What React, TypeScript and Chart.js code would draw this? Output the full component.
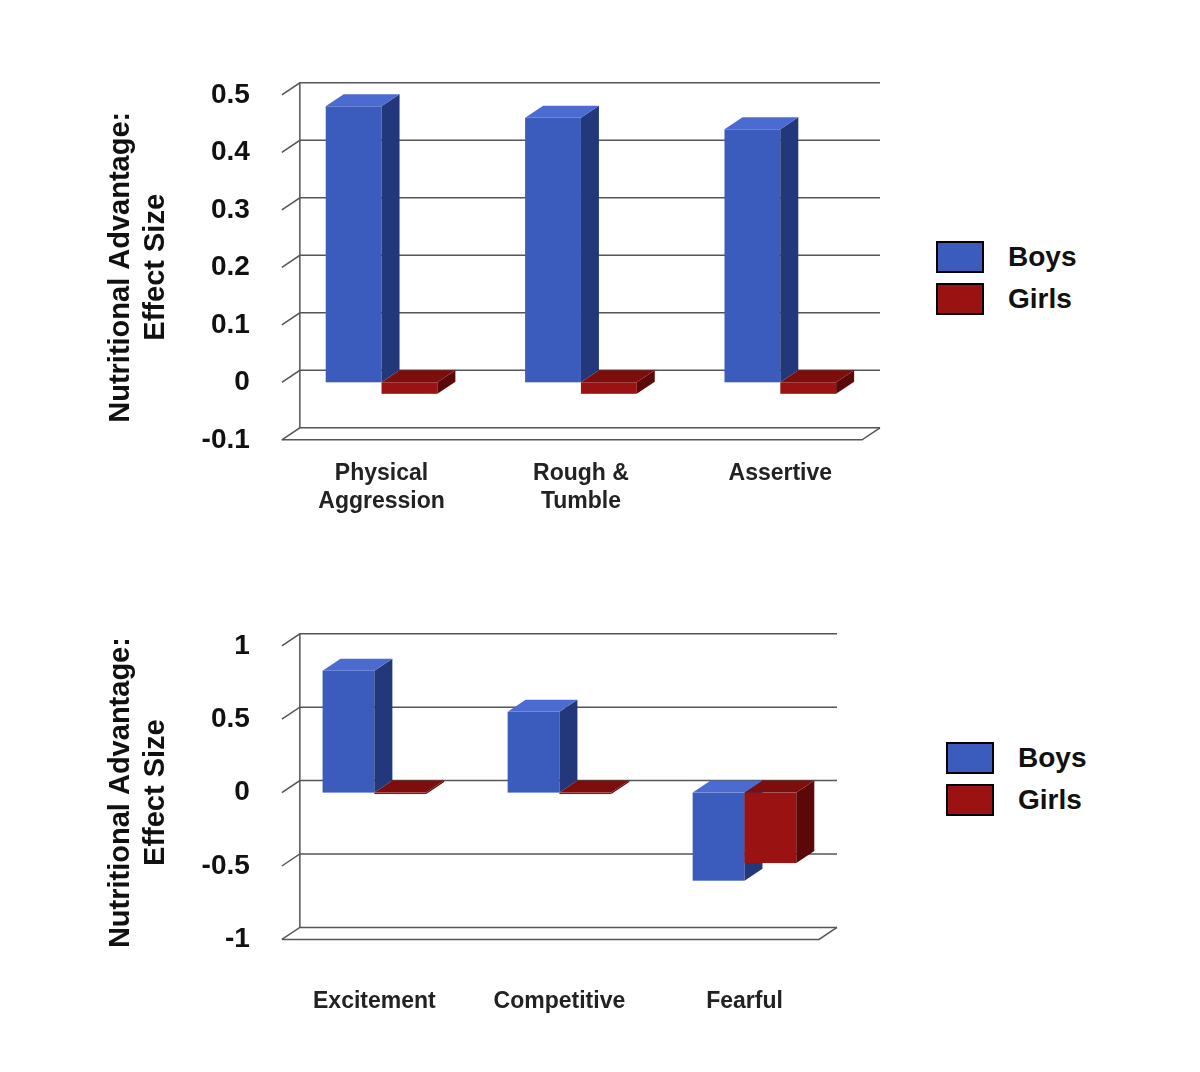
import React, { useEffect, useRef } from "react";
import { Chart, registerables } from "chart.js";
Chart.register(...registerables);

const topCategories = [["Physical", "Aggression"], ["Rough &", "Tumble"], ["Assertive"]];
const topBoys = [0.48, 0.46, 0.44];
const topGirls = [-0.02, -0.02, -0.02];
const botCategories = ["Excitement", "Competitive", "Fearful"];
const botBoys = [0.83, 0.55, -0.6];
const botGirls = [-0.01, -0.01, -0.48];

const FRONT = ["#3b5bbd", "#9a1212"];
const SIDE = ["#22387a", "#5c0808"];
const TOPF = ["#4c6bd0", "#7d0e0e"];
const DX = 18, DY = 12;

const threeD = {
  id: "threeD",
  beforeDatasetsDraw(chart: any) {
    const { ctx, chartArea } = chart;
    const ys = chart.scales.y;
    ctx.save();
    ctx.strokeStyle = "#555";
    ctx.lineWidth = 1.5;
    ys.ticks.forEach((t: any) => {
      const y = ys.getPixelForValue(t.value);
      ctx.beginPath();
      ctx.moveTo(chartArea.left, y);
      ctx.lineTo(chartArea.left + DX, y - DY);
      ctx.lineTo(chartArea.right, y - DY);
      ctx.stroke();
    });
    ctx.beginPath();
    ctx.moveTo(chartArea.left + DX, chartArea.bottom - DY);
    ctx.lineTo(chartArea.left + DX, chartArea.top - DY);
    ctx.stroke();
    ctx.beginPath();
    ctx.moveTo(chartArea.left, chartArea.bottom);
    ctx.lineTo(chartArea.right - DX, chartArea.bottom);
    ctx.lineTo(chartArea.right, chartArea.bottom - DY);
    ctx.stroke();
    ctx.restore();
  },
  afterDatasetsDraw(chart: any) {
    const { ctx } = chart;
    const n = chart.data.labels.length;
    ctx.save();
    for (let i = 0; i < n; i++) {
      chart.data.datasets.forEach((_: any, d: number) => {
        const el = chart.getDatasetMeta(d).data[i];
        const w = el.width;
        const l = el.x - w / 2, r = el.x + w / 2;
        const t = Math.min(el.y, el.base), b = Math.max(el.y, el.base);
        ctx.fillStyle = FRONT[d];
        ctx.fillRect(l, t, w, b - t);
        ctx.fillStyle = SIDE[d];
        ctx.beginPath();
        ctx.moveTo(r, t); ctx.lineTo(r + DX, t - DY); ctx.lineTo(r + DX, b - DY); ctx.lineTo(r, b); ctx.closePath();
        ctx.fill();
        ctx.fillStyle = TOPF[d];
        ctx.beginPath();
        ctx.moveTo(l, t); ctx.lineTo(l + DX, t - DY); ctx.lineTo(r + DX, t - DY); ctx.lineTo(r, t); ctx.closePath();
        ctx.fill();
      });
    }
    ctx.restore();
  },
};

function Panel(props: { labels: any[]; boys: number[]; girls: number[]; min: number; max: number; step: number; w: number; h: number; xpad: number }) {
  const ref = useRef<HTMLCanvasElement>(null);
  useEffect(() => {
    const font = { family: "Arial, 'Liberation Sans'", weight: "bold" as const };
    const chart = new Chart(ref.current!, {
      type: "bar",
      data: {
        labels: props.labels,
        datasets: [
          { label: "Boys", data: props.boys, backgroundColor: "transparent" },
          { label: "Girls", data: props.girls, backgroundColor: "transparent" },
        ],
      },
      options: {
        animation: false,
        responsive: false,
        plugins: { legend: { display: false }, tooltip: { enabled: false } },
        layout: { padding: { top: 20, right: 10 } },
        datasets: { bar: { categoryPercentage: 0.56, barPercentage: 1 } },
        scales: {
          x: {
            grid: { display: false },
            border: { display: false },
            ticks: { color: "#222", font: { ...font, size: 23 }, padding: props.xpad },
          },
          y: {
            min: props.min, max: props.max,
            grid: { display: false },
            border: { display: false },
            ticks: {
              stepSize: props.step, color: "#111", font: { ...font, size: 28 }, padding: 24,
              callback: (v: any) => String(Math.round(Number(v) * 10) / 10),
            },
            title: { display: true, text: ["Nutritional Advantage:", "Effect Size"], color: "#111", font: { ...font, size: 29 }, padding: 4 },
          },
        },
      },
      plugins: [threeD],
    });
    return () => chart.destroy();
  }, []);
  return <canvas ref={ref} width={props.w} height={props.h} />;
}

function Legend() {
  const item = (c: string, t: string) => (
    <div style={{ display: "flex", alignItems: "center", height: 42 }}>
      <div style={{ width: 44, height: 28, background: c, border: "2px solid #000", marginRight: 24 }} />
      <span style={{ font: "bold 28px Arial, 'Liberation Sans'", color: "#111" }}>{t}</span>
    </div>
  );
  return <div>{item(FRONT[0], "Boys")}{item(FRONT[1], "Girls")}</div>;
}

export default function App() {
  return (
    <div style={{ position: "absolute", left: 0, top: 0, width: 1200, height: 1072, background: "#fff" }}>
      <div style={{ position: "absolute", left: 100, top: 54 }}>
        <Panel labels={topCategories} boys={topBoys} girls={topGirls} min={-0.1} max={0.5} step={0.1} w={790} h={473} xpad={12} />
      </div>
      <div style={{ position: "absolute", left: 936, top: 236 }}><Legend /></div>
      <div style={{ position: "absolute", left: 100, top: 605 }}>
        <Panel labels={botCategories} boys={botBoys} girls={botGirls} min={-1} max={1} step={0.5} w={747} h={450} xpad={40} />
      </div>
      <div style={{ position: "absolute", left: 946, top: 737 }}><Legend /></div>
    </div>
  );
}
